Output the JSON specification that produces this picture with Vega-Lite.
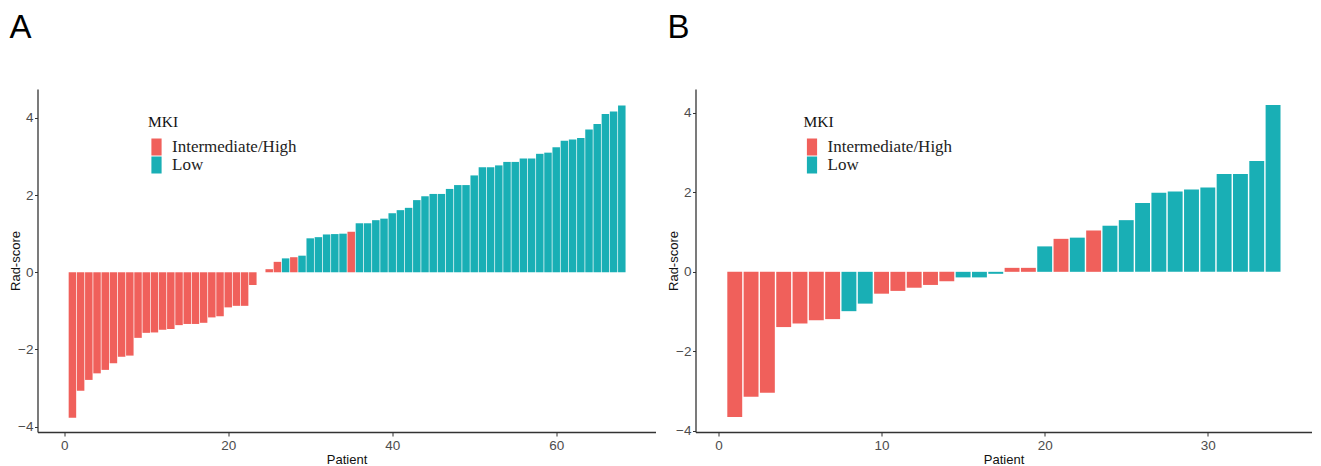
{
  "$schema": "https://vega.github.io/schema/vega-lite/v6.json",
  "background": "white",
  "padding": {"left": 9.5, "top": 12, "right": 0, "bottom": 0},
  "spacing": 12,
  "config": {
    "view": {"stroke": null},
    "axis": {
      "grid": false,
      "domainColor": "#333333",
      "domainWidth": 1.3,
      "tickColor": "#333333",
      "tickWidth": 1,
      "labelFont": "Liberation Sans",
      "labelFontSize": 13.5,
      "labelColor": "#4D4D4D",
      "titleFont": "Liberation Sans",
      "titleFontSize": 13,
      "titleFontWeight": "normal",
      "titleColor": "#111111"
    },
    "axisX": {"tickSize": 4, "labelPadding": 2, "titlePadding": 2},
    "axisY": {"tickSize": 3, "labelPadding": 1.5, "titleX": -15},
    "legend": {
      "titleFont": "Liberation Serif",
      "titleFontSize": 15.5,
      "titleFontWeight": "normal",
      "titleColor": "#111111",
      "titlePadding": 8,
      "labelFont": "Liberation Serif",
      "labelFontSize": 17,
      "labelColor": "#222222",
      "labelOffset": 7,
      "rowPadding": 0,
      "padding": 0,
      "symbolSize": 289,
      "symbolType": "M-0.6,-1H0.6V1H-0.6Z",
      "symbolStrokeWidth": 0,
      "symbolOpacity": 1
    },
    "title": {
      "font": "Liberation Sans",
      "fontSize": 33,
      "fontWeight": "normal",
      "color": "#000000",
      "anchor": "start",
      "frame": "bounds",
      "offset": 44
    }
  },
  "datasets": {
    "A": [
      {"patient": 1, "score": -3.77, "MKI": "Intermediate/High"},
      {"patient": 2, "score": -3.07, "MKI": "Intermediate/High"},
      {"patient": 3, "score": -2.79, "MKI": "Intermediate/High"},
      {"patient": 4, "score": -2.62, "MKI": "Intermediate/High"},
      {"patient": 5, "score": -2.53, "MKI": "Intermediate/High"},
      {"patient": 6, "score": -2.36, "MKI": "Intermediate/High"},
      {"patient": 7, "score": -2.19, "MKI": "Intermediate/High"},
      {"patient": 8, "score": -2.16, "MKI": "Intermediate/High"},
      {"patient": 9, "score": -1.70, "MKI": "Intermediate/High"},
      {"patient": 10, "score": -1.57, "MKI": "Intermediate/High"},
      {"patient": 11, "score": -1.56, "MKI": "Intermediate/High"},
      {"patient": 12, "score": -1.49, "MKI": "Intermediate/High"},
      {"patient": 13, "score": -1.47, "MKI": "Intermediate/High"},
      {"patient": 14, "score": -1.37, "MKI": "Intermediate/High"},
      {"patient": 15, "score": -1.34, "MKI": "Intermediate/High"},
      {"patient": 16, "score": -1.34, "MKI": "Intermediate/High"},
      {"patient": 17, "score": -1.31, "MKI": "Intermediate/High"},
      {"patient": 18, "score": -1.17, "MKI": "Intermediate/High"},
      {"patient": 19, "score": -1.14, "MKI": "Intermediate/High"},
      {"patient": 20, "score": -0.91, "MKI": "Intermediate/High"},
      {"patient": 21, "score": -0.87, "MKI": "Intermediate/High"},
      {"patient": 22, "score": -0.87, "MKI": "Intermediate/High"},
      {"patient": 23, "score": -0.33, "MKI": "Intermediate/High"},
      {"patient": 24, "score": 0.0, "MKI": "Intermediate/High"},
      {"patient": 25, "score": 0.08, "MKI": "Intermediate/High"},
      {"patient": 26, "score": 0.27, "MKI": "Intermediate/High"},
      {"patient": 27, "score": 0.36, "MKI": "Low"},
      {"patient": 28, "score": 0.39, "MKI": "Intermediate/High"},
      {"patient": 29, "score": 0.43, "MKI": "Low"},
      {"patient": 30, "score": 0.88, "MKI": "Low"},
      {"patient": 31, "score": 0.91, "MKI": "Low"},
      {"patient": 32, "score": 0.98, "MKI": "Low"},
      {"patient": 33, "score": 0.99, "MKI": "Low"},
      {"patient": 34, "score": 1.00, "MKI": "Low"},
      {"patient": 35, "score": 1.05, "MKI": "Intermediate/High"},
      {"patient": 36, "score": 1.27, "MKI": "Low"},
      {"patient": 37, "score": 1.27, "MKI": "Low"},
      {"patient": 38, "score": 1.35, "MKI": "Low"},
      {"patient": 39, "score": 1.39, "MKI": "Low"},
      {"patient": 40, "score": 1.53, "MKI": "Low"},
      {"patient": 41, "score": 1.61, "MKI": "Low"},
      {"patient": 42, "score": 1.67, "MKI": "Low"},
      {"patient": 43, "score": 1.87, "MKI": "Low"},
      {"patient": 44, "score": 1.97, "MKI": "Low"},
      {"patient": 45, "score": 2.03, "MKI": "Low"},
      {"patient": 46, "score": 2.03, "MKI": "Low"},
      {"patient": 47, "score": 2.16, "MKI": "Low"},
      {"patient": 48, "score": 2.26, "MKI": "Low"},
      {"patient": 49, "score": 2.26, "MKI": "Low"},
      {"patient": 50, "score": 2.51, "MKI": "Low"},
      {"patient": 51, "score": 2.72, "MKI": "Low"},
      {"patient": 52, "score": 2.72, "MKI": "Low"},
      {"patient": 53, "score": 2.77, "MKI": "Low"},
      {"patient": 54, "score": 2.86, "MKI": "Low"},
      {"patient": 55, "score": 2.86, "MKI": "Low"},
      {"patient": 56, "score": 2.95, "MKI": "Low"},
      {"patient": 57, "score": 2.95, "MKI": "Low"},
      {"patient": 58, "score": 3.07, "MKI": "Low"},
      {"patient": 59, "score": 3.10, "MKI": "Low"},
      {"patient": 60, "score": 3.24, "MKI": "Low"},
      {"patient": 61, "score": 3.41, "MKI": "Low"},
      {"patient": 62, "score": 3.44, "MKI": "Low"},
      {"patient": 63, "score": 3.48, "MKI": "Low"},
      {"patient": 64, "score": 3.70, "MKI": "Low"},
      {"patient": 65, "score": 3.84, "MKI": "Low"},
      {"patient": 66, "score": 4.10, "MKI": "Low"},
      {"patient": 67, "score": 4.17, "MKI": "Low"},
      {"patient": 68, "score": 4.32, "MKI": "Low"}
    ],
    "B": [
      {"patient": 1, "score": -3.65, "MKI": "Intermediate/High"},
      {"patient": 2, "score": -3.14, "MKI": "Intermediate/High"},
      {"patient": 3, "score": -3.04, "MKI": "Intermediate/High"},
      {"patient": 4, "score": -1.39, "MKI": "Intermediate/High"},
      {"patient": 5, "score": -1.30, "MKI": "Intermediate/High"},
      {"patient": 6, "score": -1.22, "MKI": "Intermediate/High"},
      {"patient": 7, "score": -1.19, "MKI": "Intermediate/High"},
      {"patient": 8, "score": -0.99, "MKI": "Low"},
      {"patient": 9, "score": -0.80, "MKI": "Low"},
      {"patient": 10, "score": -0.55, "MKI": "Intermediate/High"},
      {"patient": 11, "score": -0.48, "MKI": "Intermediate/High"},
      {"patient": 12, "score": -0.40, "MKI": "Intermediate/High"},
      {"patient": 13, "score": -0.33, "MKI": "Intermediate/High"},
      {"patient": 14, "score": -0.24, "MKI": "Intermediate/High"},
      {"patient": 15, "score": -0.14, "MKI": "Low"},
      {"patient": 16, "score": -0.14, "MKI": "Low"},
      {"patient": 17, "score": -0.05, "MKI": "Low"},
      {"patient": 18, "score": 0.10, "MKI": "Intermediate/High"},
      {"patient": 19, "score": 0.10, "MKI": "Intermediate/High"},
      {"patient": 20, "score": 0.64, "MKI": "Low"},
      {"patient": 21, "score": 0.83, "MKI": "Intermediate/High"},
      {"patient": 22, "score": 0.86, "MKI": "Low"},
      {"patient": 23, "score": 1.04, "MKI": "Intermediate/High"},
      {"patient": 24, "score": 1.16, "MKI": "Low"},
      {"patient": 25, "score": 1.30, "MKI": "Low"},
      {"patient": 26, "score": 1.73, "MKI": "Low"},
      {"patient": 27, "score": 1.99, "MKI": "Low"},
      {"patient": 28, "score": 2.02, "MKI": "Low"},
      {"patient": 29, "score": 2.07, "MKI": "Low"},
      {"patient": 30, "score": 2.12, "MKI": "Low"},
      {"patient": 31, "score": 2.46, "MKI": "Low"},
      {"patient": 32, "score": 2.46, "MKI": "Low"},
      {"patient": 33, "score": 2.79, "MKI": "Low"},
      {"patient": 34, "score": 4.20, "MKI": "Low"}
    ]
  },
  "hconcat": [
    {
      "title": {"text": "A"},
      "width": 618,
      "height": 343,
      "data": {"name": "A"},
      "mark": {"type": "bar", "width": 7.5},
      "encoding": {
        "x": {
          "field": "patient", "type": "quantitative",
          "scale": {"domain": [-2.65, 71.5], "nice": false, "zero": false},
          "axis": {"values": [0, 20, 40, 60], "title": "Patient"}
        },
        "y": {
          "field": "score", "type": "quantitative",
          "scale": {"domain": [-4.14, 4.75], "nice": false},
          "axis": {"values": [-4, -2, 0, 2, 4], "title": "Rad-score"}
        },
        "color": {
          "field": "MKI", "type": "nominal",
          "scale": {"domain": ["Intermediate/High", "Low"], "range": ["#F0605B", "#19AFB5"]},
          "legend": {"title": "MKI", "orient": "none", "legendX": 110.5, "legendY": 26}
        }
      }
    },
    {
      "title": {"text": "B"},
      "width": 616,
      "height": 343,
      "data": {"name": "B"},
      "mark": {"type": "bar", "width": 14.9},
      "encoding": {
        "x": {
          "field": "patient", "type": "quantitative",
          "scale": {"domain": [-1.1, 36.05], "nice": false, "zero": false},
          "axis": {"values": [0, 10, 20, 30], "title": "Patient"}
        },
        "y": {
          "field": "score", "type": "quantitative",
          "scale": {"domain": [-4.03, 4.6], "nice": false},
          "axis": {"values": [-4, -2, 0, 2, 4], "title": "Rad-score"}
        },
        "color": {
          "field": "MKI", "type": "nominal",
          "scale": {"domain": ["Intermediate/High", "Low"], "range": ["#F0605B", "#19AFB5"]},
          "legend": {"title": "MKI", "orient": "none", "legendX": 108, "legendY": 26}
        }
      }
    }
  ],
  "resolve": {"scale": {"x": "independent", "y": "independent", "color": "independent"}, "legend": {"color": "independent"}}
}
